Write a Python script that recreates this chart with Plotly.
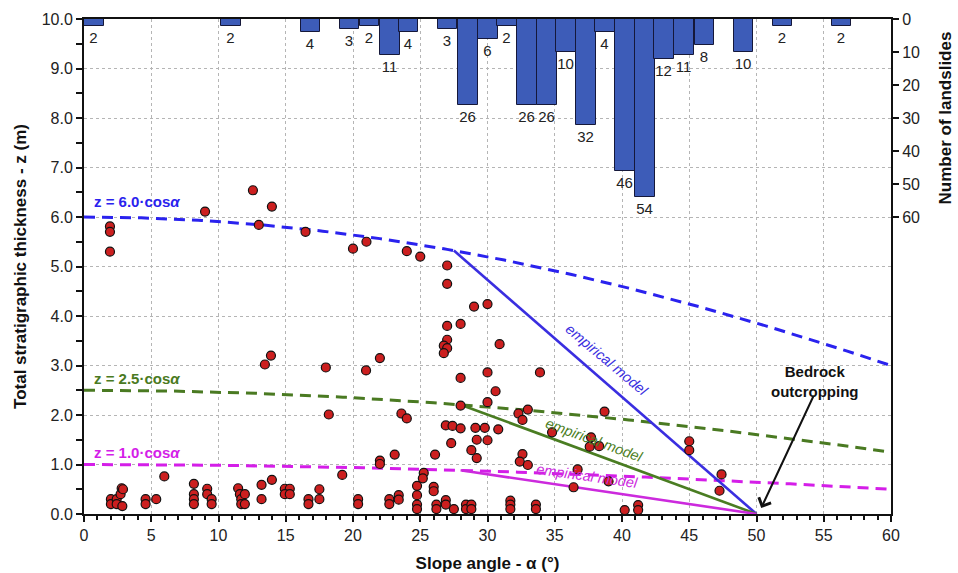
import numpy as np
import plotly.graph_objects as go

FONT = "Liberation Sans, Arial, sans-serif"

# ---------------- data ----------------
# histogram of landslides per slope-angle class (left edge of class, count)
bin_left = [0.0, 10.2, 16.1, 19.0, 20.5, 22.0, 23.4, 26.3, 27.8, 29.3, 30.7, 32.2,
            33.7, 35.1, 36.6, 38.0, 39.5, 41.0, 42.4, 43.9, 45.4, 48.3, 51.2, 55.6]
bin_width = 1.46
bin_count = [2, 2, 4, 3, 2, 11, 4, 3, 26, 6, 2, 26,
             26, 10, 32, 4, 46, 54, 12, 11, 8, 10, 2, 2]

# observed landslides: slope angle (deg) and thickness z (m)
obs_alpha = [1.93, 1.93, 1.93,
             2.0, 2.0, 2.43, 2.43, 2.72, 2.8, 2.9, 2.85,
             4.58, 4.58, 5.37, 5.97,
             8.17, 8.17, 8.17, 8.17,
             9.16, 9.16, 9.49, 9.49, 9.0,
             11.46, 11.59, 11.69, 11.96, 11.69, 11.96,
             12.56, 13.0, 13.97,
             13.2, 13.2, 13.97, 13.45, 13.9,
             14.93, 15.3, 14.93, 15.3,
             16.47, 16.69, 16.69, 17.5, 17.5,
             17.98, 18.2, 19.2,
             20.0, 21.0, 20.97, 20.38, 20.38,
             22.0, 22.0, 22.0, 22.7, 22.7, 23.1, 23.4, 23.4,
             23.6, 24.0, 24.0, 25.0,
             24.76, 24.76, 24.76, 24.76, 25.26, 25.19,
             26.0, 26.0, 26.1, 26.2, 26.2, 26.9, 26.9,
             26.9, 27.4,
             27.0, 27.0, 27.0, 27.0, 26.75, 27.0, 26.75,
             27.3, 27.5,
             28.0, 28.0, 28.0, 28.0,
             28.4, 28.4, 28.8, 28.8,
             28.8, 29.2, 29.2,
             29.0, 30.0,
             29.1, 29.8, 30.8,
             30.0, 30.0, 30.0, 30.6, 30.9,
             31.7, 31.7, 31.7,
             32.3, 33.0, 32.6, 32.6, 32.4, 33.0,
             33.6, 33.6, 33.9, 34.8,
             36.4, 36.7, 37.7, 37.6, 38.3, 38.7, 39.0,
             40.2, 41.2, 41.2,
             45.0, 45.0, 47.4, 47.25]
obs_z = [5.81, 5.70, 5.30,
         0.30, 0.20, 0.30, 0.20, 0.40, 0.52, 0.50, 0.16,
         0.30, 0.20, 0.30, 0.76,
         0.61, 0.40, 0.30, 0.20,
         0.51, 0.40, 0.30, 0.20, 6.11,
         0.52, 0.40, 0.30, 0.40, 0.20, 0.20,
         6.54, 5.84, 6.21,
         0.59, 0.30, 0.69, 3.02, 3.20,
         0.51, 0.51, 0.40, 0.40,
         5.70, 0.30, 0.20, 0.50, 0.30,
         2.96, 2.01, 0.79,
         5.36, 5.50, 2.90, 0.30, 0.20,
         3.15, 1.08, 1.01, 0.30, 0.20, 1.20, 0.38, 0.29,
         2.03, 1.93, 5.31, 5.20,
         0.57, 0.38, 0.19, 0.10, 0.83, 0.72,
         0.55, 0.46, 1.20, 0.19, 0.10, 0.28, 0.19,
         1.79, 1.78,
         5.02, 4.65, 3.80, 3.52, 3.40, 3.35, 3.25,
         1.43, 0.10,
         3.84, 2.75, 2.19, 1.73,
         0.19, 0.10, 0.19, 0.10,
         1.29, 1.13, 1.50,
         4.19, 4.24,
         1.74, 1.74, 1.71,
         2.86, 2.26, 1.49, 2.48, 3.43,
         0.27, 0.19, 0.10,
         2.03, 2.11, 1.90, 1.21, 1.06, 0.99,
         0.19, 0.10, 2.86, 1.65,
         0.54, 0.90, 1.55, 1.36, 1.37, 2.07, 0.66,
         0.08, 0.18, 0.08,
         1.47, 1.29, 0.80, 0.47]

# thickness models z = k * cos(alpha)
model_k = [6.0, 2.5, 1.0]
model_label = ["z = 6.0·cos<i>α</i>", "z = 2.5·cos<i>α</i>", "z = 1.0·cos<i>α</i>"]
model_label_dy = [0.31, 0.24, 0.24]
model_color = ["#2a22ee", "#4a7a22", "#d41ee8"]
emp_color = ["#3a2ee0", "#4a7d22", "#cc2add"]
emp_start_alpha = [27.5, 28.0, 28.0]   # where empirical lines leave the curves
bedrock_alpha = 50.0                    # bedrock outcropping (z = 0)

x_ticks = list(range(0, 61, 5))
y_ticks = [i * 1.0 for i in range(0, 11)]
count_ticks = [0, 10, 20, 30, 40, 50, 60]

# ---------------- figure ----------------
fig = go.Figure()

alpha_grid = np.linspace(0, 60, 241)
for k, col in zip(model_k, model_color):
    fig.add_trace(go.Scatter(
        x=alpha_grid, y=k * np.cos(np.radians(alpha_grid)), mode="lines",
        line=dict(color=col, width=3, dash="11px,7px"), showlegend=False,
        hoverinfo="skip"))

for k, a0, col in zip(model_k, emp_start_alpha, emp_color):
    fig.add_trace(go.Scatter(
        x=[a0, bedrock_alpha], y=[k * np.cos(np.radians(a0)), 0.0], mode="lines",
        line=dict(color=col, width=2.6), showlegend=False, hoverinfo="skip"))

fig.add_trace(go.Scatter(
    x=obs_alpha, y=obs_z, mode="markers",
    marker=dict(size=9, color="#cc1f1f", line=dict(color="#111", width=1.2)),
    showlegend=False, cliponaxis=False))

# histogram bars (secondary reversed axis at top)
fig.add_trace(go.Bar(
    x=[b + bin_width / 2 for b in bin_left], y=bin_count, width=bin_width,
    xaxis="x", yaxis="y2",
    marker=dict(color="#3d5cb8", line=dict(color="#15183a", width=1)),
    text=[str(c) for c in bin_count], textposition="outside",
    textfont=dict(family=FONT, size=15, color="#222"),
    cliponaxis=False, showlegend=False, hoverinfo="skip"))

# curve labels
for lab, k, dy, col in zip(model_label, model_k, model_label_dy, model_color):
    fig.add_annotation(x=0.6, y=k + dy, text="<b>" + lab + "</b>", showarrow=False,
                       xanchor="left", yanchor="middle",
                       font=dict(family=FONT, size=15, color=col))

# empirical model labels
emp_text_pos = [(38.9, 3.12, 40), (37.9, 1.49, 20), (37.4, 0.76, 8)]
for (tx, ty, ang), col in zip(emp_text_pos, emp_color):
    fig.add_annotation(x=tx, y=ty, text="<i>empirical model</i>", showarrow=False,
                       textangle=ang, font=dict(family=FONT, size=14.5, color=col))

# bedrock outcropping
fig.add_annotation(x=54.3, y=2.67, text="<b>Bedrock<br>outcropping</b>", showarrow=False,
                   font=dict(family=FONT, size=15, color="#111"))
fig.add_annotation(x=50.35, y=0.12, ax=54.3, ay=2.42, axref="x", ayref="y",
                   xref="x", yref="y", text="", showarrow=True,
                   arrowhead=4, arrowsize=1.3, arrowwidth=2, arrowcolor="#111")

axis_font = dict(family=FONT, size=16, color="#222")
title_font = dict(family=FONT, size=17, color="#111")

fig.update_layout(
    width=958, height=573,
    margin=dict(l=84, r=67, t=19, b=59, autoexpand=False),
    paper_bgcolor="white", plot_bgcolor="rgba(0,0,0,0)",
    font=dict(family=FONT),
    bargap=0,
    xaxis=dict(range=[0, 60], tickvals=x_ticks, ticks="outside", ticklen=6,
               tickwidth=1.5, tickcolor="#111", automargin=False,
               minor=dict(dtick=1, ticks="outside", ticklen=4, tickcolor="#111",
                          showgrid=False),
               showgrid=True, gridcolor="#b5b5b5", griddash="dot", gridwidth=1,
               showline=True, linecolor="#111", linewidth=2, mirror=True,
               zeroline=False, tickfont=axis_font,
               title=dict(text="<b>Slope angle - α (°)</b>", font=title_font,
                          standoff=14)),
    yaxis=dict(range=[0, 10], tickvals=y_ticks, tickformat=".1f", ticks="outside",
               ticklen=6, tickwidth=1.5, tickcolor="#111", automargin=False,
               minor=dict(dtick=0.5, ticks="outside", ticklen=6, tickcolor="#111",
                          showgrid=False),
               showgrid=True, gridcolor="#b5b5b5", griddash="dot", gridwidth=1,
               showline=True, linecolor="#111", linewidth=2, mirror=True,
               zeroline=False, tickfont=axis_font,
               title=dict(text="<b>Total stratigraphic thickness - z (m)</b>",
                          font=title_font, standoff=11)),
    yaxis2=dict(domain=[0.6, 1.0], range=[60, 0], anchor="x", side="right",
                tickvals=count_ticks, ticks="outside", ticklen=6, tickwidth=1.5,
                tickcolor="#111", showgrid=False, showline=True, linecolor="#111",
                linewidth=2, zeroline=False, tickfont=axis_font, automargin=False,
                title=dict(text="<b>Number of landslides</b>", font=title_font,
                           standoff=20)),
)

fig.write_html("out.html")
